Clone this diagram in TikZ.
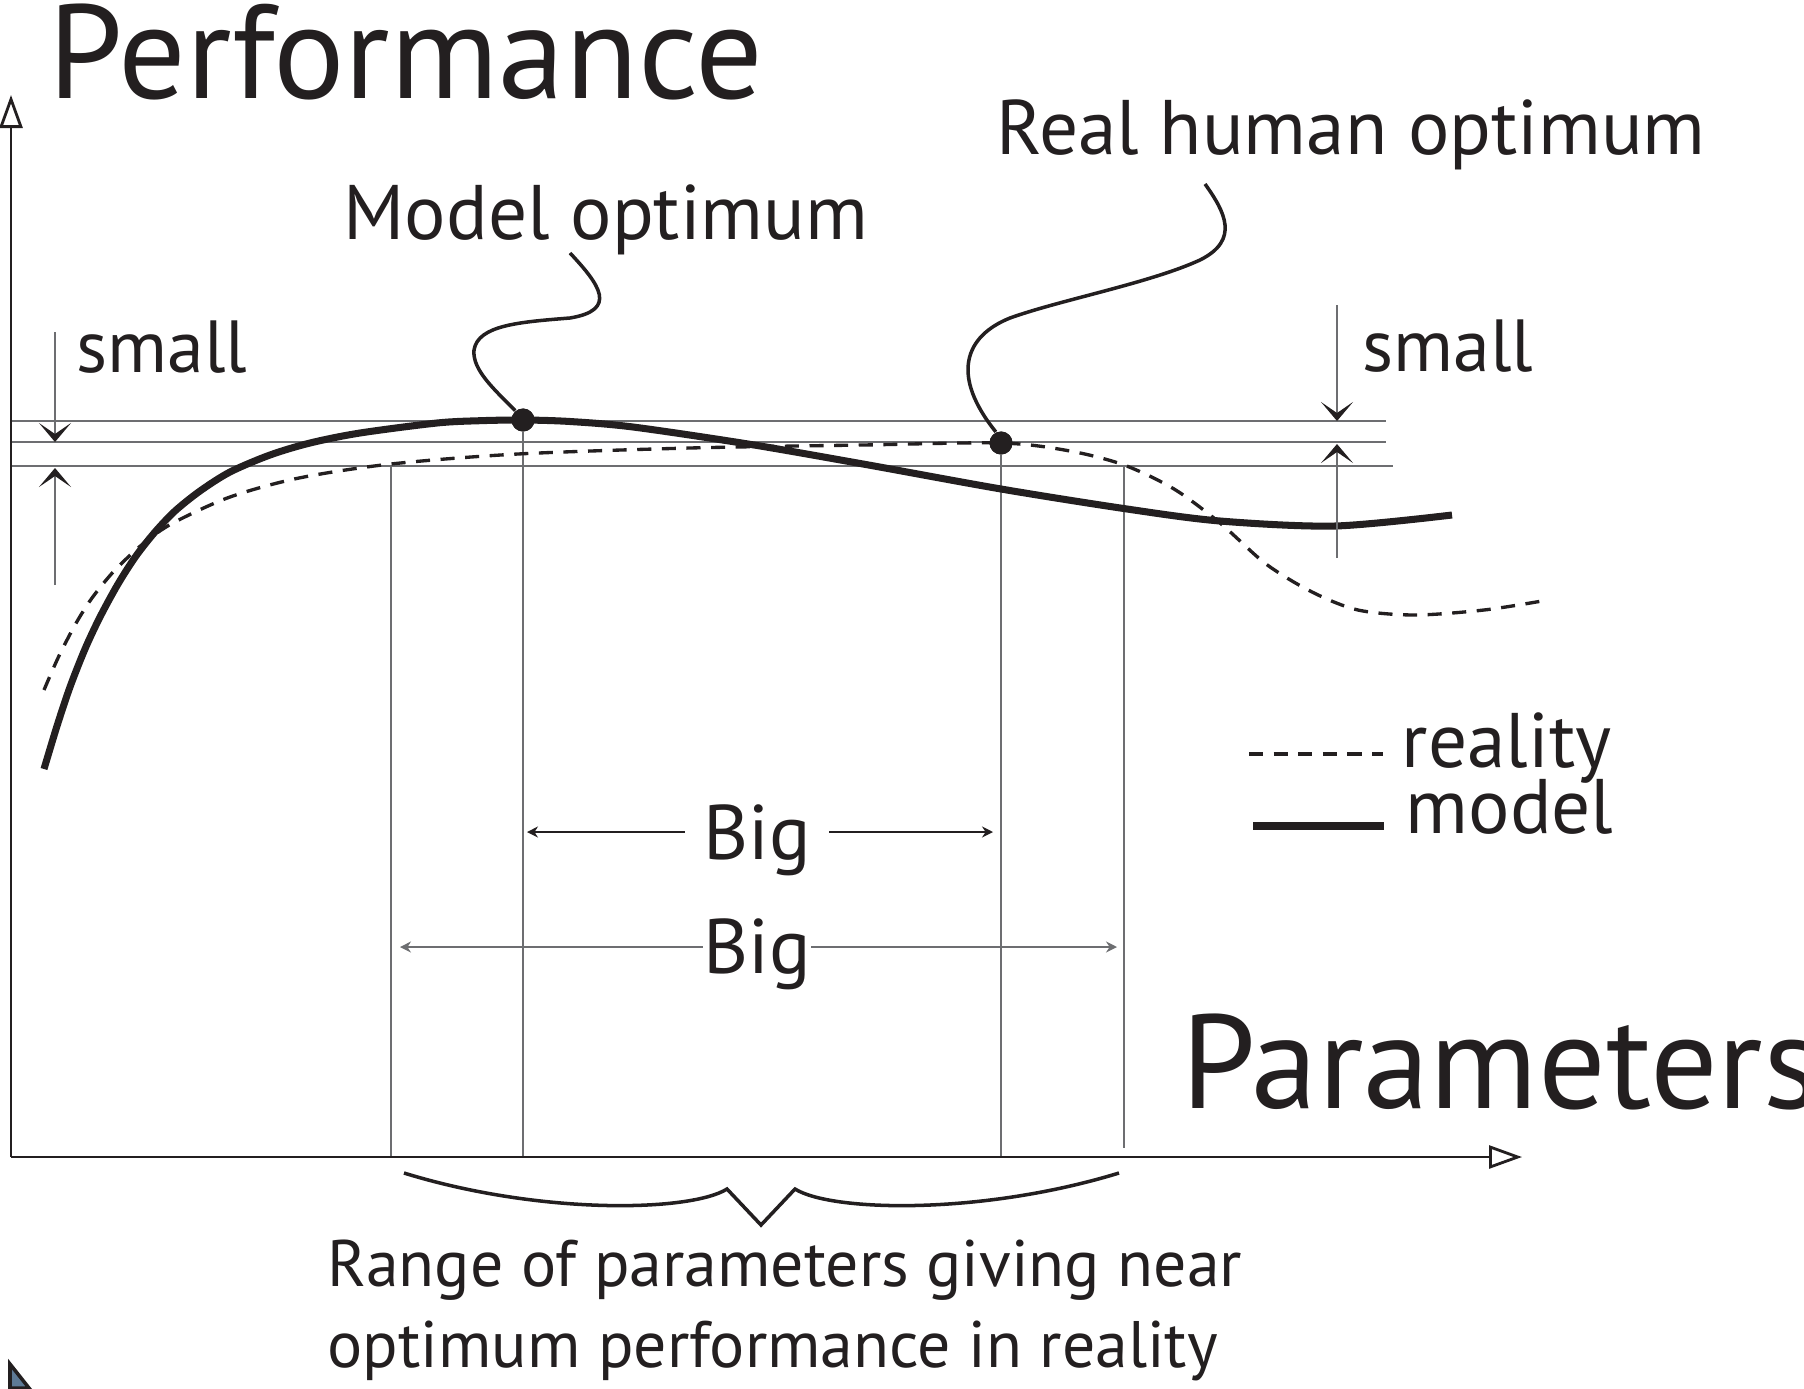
\documentclass[tikz,border=0pt]{standalone}
\usepackage{fontspec}
\setmainfont{PT Sans}
\usetikzlibrary{arrows.meta,calc}
\definecolor{Ink}{HTML}{231F20}
\definecolor{Rule}{HTML}{6D6E71}
\definecolor{PointerFill}{HTML}{5E7A96}
\tikzset{
  axis/.style={draw=Ink,line width=.8pt,-{Triangle[open,length=.33cm,width=.23cm]}},
  guide/.style={draw=Rule,line width=.4pt},
  modelline/.style={draw=Ink,line width=2pt},
  realline/.style={draw=Ink,line width=.95pt,dash pattern=on 4pt off 3pt},
  leader/.style={draw=Ink,line width=1pt},
  gaparrow/.style={draw=Rule,line width=.4pt,-{Stealth[length=1.9mm,width=3.2mm,inset=1.1mm,color=Ink]}},
  bigspan/.style={line width=.4pt,-{Stealth[length=1.1mm,width=1.1mm]}},
  optdot/.style={circle,fill=Ink,inner sep=0pt,minimum size=.23cm},
  axislabel/.style={inner sep=0pt,text=Ink,font=\fontsize{38}{42}\selectfont},
  lbl/.style={inner sep=0pt,text=Ink,font=\fontsize{22}{26}\selectfont},
  note/.style={inner sep=0pt,text=Ink,align=left,font=\fontsize{18.7}{22.8}\selectfont},
}
\begin{document}
\begin{tikzpicture}[x=.01cm,y=-.01cm]
  \useasboundingbox (0,0) rectangle (1804,1388);
  \coordinate (O) at (11,1157);
  \coordinate (ytop) at (11,95);
  \coordinate (xend) at (1522,1157);
  \foreach \y/\e in {421/1386,442/1386,466/1393}
    \draw[guide] (11,\y) -- (\e,\y);
  \node[optdot] (mopt) at (523,420) {};
  \node[optdot] (ropt) at (1001,443) {};
  \coordinate (nearL) at (391,466);
  \coordinate (nearR) at (1124,466);
  \draw[guide] (nearL) -- (nearL |- O);
  \draw[guide] (mopt) -- (mopt |- O);
  \draw[guide] (ropt) -- (ropt |- O);
  \draw[guide] (nearR) -- ($(nearR |- O)+(0,-9)$);
  \draw[axis] (O) -- (ytop);
  \draw[axis] (O) -- (xend);
  \draw[realline] plot[smooth] coordinates {(44,690) (58,658) (75,625) (92,598) (115,570) (144,543) (173,523) (230,497) (299,478) (391,464) (518,454) (690,448) (863,445) (1001,443) (1070,451) (1124,465) (1174,489) (1220,523) (1266,564) (1312,592) (1358,610) (1415,615) (1484,610) (1542,601)};
  \draw[modelline] plot[smooth] coordinates {(44,769) (57,726) (70,687) (85,649) (100,617) (118,584) (136,556) (155,532) (175,511) (200,491) (230,472) (270,455) (310,443) (360,433) (437,423) (480,420.7) (523,420) (570,421.5) (633,427) (748,444) (863,464) (1001,489) (1127,509) (1220,521) (1335,526) (1452,515)};
  \node[optdot] at (mopt) {};
  \node[optdot] at (ropt) {};
  \node[axislabel,anchor=base west] (perf) at (48,99) {Performance};
  \node[axislabel,anchor=base west] (param) at (1181,1108) {Parameters};
  \node[lbl,anchor=base west] (mtxt) at (343,239) {Model optimum};
  \node[lbl,anchor=base west] (rtxt) at (996,155) {Real human optimum};
  \coordinate (mlead) at (570,253);
  \coordinate (rlead) at (1205,184);
  \draw[leader] (mlead) .. controls (600,285) and (618,310) .. (570,318)
    .. controls (520,322) and (478,325) .. (474,350)
    .. controls (472,370) and (495,390) .. (mopt.130);
  \draw[leader] (rlead) .. controls (1225,212) and (1240,240) .. (1200,260)
    .. controls (1150,283) and (1060,300) .. (1010,318)
    .. controls (965,336) and (950,375) .. (ropt.115);
  \node[lbl,anchor=base west,font=\fontsize{21}{25}\selectfont] (smallL) at (76,372) {small};
  \node[lbl,anchor=base west,font=\fontsize{21}{25}\selectfont] (smallR) at (1362,371) {small};
  \coordinate (gL1) at (55,332);  \coordinate (gL1e) at (55,442);
  \coordinate (gL2) at (55,585);  \coordinate (gL2e) at (55,468);
  \coordinate (gR1) at (1337,305); \coordinate (gR1e) at (1337,421);
  \coordinate (gR2) at (1337,558); \coordinate (gR2e) at (1337,444);
  \draw[gaparrow] (gL1) -- (gL1e);
  \draw[gaparrow] (gL2) -- (gL2e);
  \draw[gaparrow] (gR1) -- (gR1e);
  \draw[gaparrow] (gR2) -- (gR2e);
  \node[lbl,anchor=base,inner xsep=.18cm] (bigA) at (757,859) {Big};
  \node[lbl,anchor=base] (bigB) at (757,973) {Big};
  \coordinate (bA1) at (527,832); \coordinate (bA2) at (993,832);
  \coordinate (bB1) at (400,947); \coordinate (bB2) at (1117,947);
  \draw[bigspan,Ink] (bA1 -| bigA.west) -- (bA1);
  \draw[bigspan,Ink] (bA2 -| bigA.east) -- (bA2);
  \draw[bigspan,Rule] (bB1 -| bigB.west) -- (bB1);
  \draw[bigspan,Rule] (bB2 -| bigB.east) -- (bB2);
  \node[lbl,anchor=base west] (realkey) at (1401,767) {reality};
  \node[lbl,anchor=base west] (modelkey) at (1405,833) {model};
  \draw[realline] (1249,754) -- (1383,754);
  \draw[modelline] (1253,826) -- (1384,826);
  \draw[leader] (404,1173) .. controls (540,1215) and (690,1212) .. (727,1189)
    -- (761,1225) -- (795,1189)
    .. controls (832,1212) and (982,1215) .. (1119,1173);
  \node[note,anchor=base west] (range) at (327,1367) {Range of parameters giving near\\optimum performance in reality};
  \filldraw[fill=PointerFill,draw=Ink,line width=1pt] (10,1364) -- (29,1388) -- (10,1388) -- cycle;
\end{tikzpicture}
\end{document}
